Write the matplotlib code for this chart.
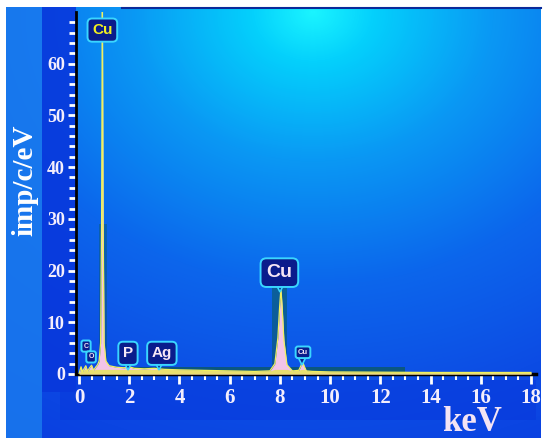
import numpy as np
import matplotlib.pyplot as plt
from matplotlib.colors import LinearSegmentedColormap

# spectrum (keV, imp/c/eV)
energy = [0.0, 0.08, 0.14, 0.2, 0.27, 0.34, 0.42, 0.5, 0.58, 0.66, 0.74, 0.8,
          0.86, 0.9, 0.93, 0.96, 1.0, 1.07, 1.2, 1.5, 1.8, 2.0, 2.2, 2.6,
          3.0, 3.4, 4.0, 5.0, 6.0, 7.0, 7.6, 7.8, 7.92, 7.99, 8.04, 8.09,
          8.16, 8.28, 8.5, 8.75, 8.84, 8.9, 8.96, 9.05, 9.3, 10.0, 12.0,
          14.0, 16.0, 18.0]
counts = [0.0, 1.4, 0.4, 1.0, 1.6, 0.5, 1.2, 1.7, 0.7, 1.3, 1.8, 2.5,
          6.0, 30.0, 75.0, 30.0, 6.0, 2.5, 1.6, 1.3, 1.2, 1.4, 1.1, 1.0,
          1.1, 0.9, 0.8, 0.7, 0.6, 0.5, 0.6, 2.0, 7.0, 13.0, 16.5, 13.0,
          6.5, 1.8, 0.6, 0.7, 1.6, 2.5, 1.6, 0.6, 0.5, 0.4, 0.35,
          0.3, 0.3, 0.3]

# peak labels: text, x (keV), y (imp/c/eV), font size, text colour
labels = ["Cu", "Cu", "Cu", "P", "Ag", "C", "O"]
label_x = [0.93, 7.98, 8.92, 1.95, 3.3, 0.28, 0.48]
label_y = [66.5, 19.6, 4.2, 4.0, 4.0, 5.4, 3.3]
label_size = [11, 14, 5.5, 11, 11, 5, 5]
label_color = ["#f2f020", "#f6e6f6", "#f6e6f6", "#f6e6f6", "#f6e6f6",
               "#f6e6f6", "#f6e6f6"]
# pointer tips under the bubbles (keV, imp/c/eV)
pointer_x = [8.02, 8.9, 1.95, 3.2]
pointer_y = [16.6, 2.6, 1.6, 1.6]

W, H = 550, 447
fig = plt.figure(figsize=(W / 100, H / 100), dpi=100, facecolor="white")

# gradient background
bg = fig.add_axes([0, 0, 1, 1], zorder=0)
bg.set_xlim(0, W)
bg.set_ylim(H, 0)
bg.axis("off")
yy, xx = np.mgrid[0:H, 0:W]
r = np.hypot(xx - 315, (yy - 5) * 1.2)
cmap = LinearSegmentedColormap.from_list(
    "bgblue", [(0.0, "#1af4ff"), (0.1, "#04d0fc"), (0.3, "#0a98f4"),
               (0.55, "#0c66ec"), (0.8, "#0c4ce4"), (1.0, "#0a3ee0")])
bg.imshow(r / r.max(), cmap=cmap, extent=[6, 541, 438, 7], aspect="auto",
          interpolation="bilinear")
bg.add_patch(plt.Rectangle((6, 7), 36, 431, color="#1a7aee", alpha=0.85, lw=0))
bg.add_patch(plt.Rectangle((42, 7), 34, 385, color="#0838dc", alpha=0.9, lw=0))
bg.add_patch(plt.Rectangle((60, 380), 476, 40, color="#0838dc", alpha=0.55,
                           lw=0))
bg.plot([122, 541], [8, 8], color="#0a2a9a", lw=1.5)

# spectrum axes
ax = fig.add_axes([76 / W, 73 / H, 460 / W, 362 / H], zorder=2)
ax.patch.set_alpha(0)
ax.set_xlim(-0.12, 18.2)
ax.set_ylim(0, 70)

# dark green ROI bands
ax.fill_between([0.78, 1.1], 0, 29, color="#0b5a3a", alpha=0.35, lw=0)
ax.fill_between([7.7, 8.28], 0, 19.3, color="#0b5a3a", alpha=0.45, lw=0)
ax.fill_between([1.2, 13.0], 0, 1.3, color="#0b5a3a", alpha=0.6, lw=0)

ax.fill_between(energy, 0, counts, color="#f4c4e8", lw=0, zorder=3)
ax.fill_between(energy, 0, np.minimum(counts, 0.9), color="#e8e070", lw=0,
                zorder=3)
ax.plot(energy, counts, color="#f0f060", lw=0.9, zorder=4)

ax.plot(pointer_x, pointer_y, "v", ms=6, mfc="#0a1c8c", mec="#3ad6ff",
        mew=1.2, zorder=5, ls="none")
for t, x, y, s, c in zip(labels, label_x, label_y, label_size, label_color):
    ax.text(x, y, t, fontsize=s, fontweight="bold", color=c,
            family="Liberation Sans", ha="center", va="center", zorder=6,
            bbox=dict(boxstyle="round,pad=0.3", fc="#0a1c8c", ec="#3ad6ff",
                      lw=1.4))

for side in ["top", "right"]:
    ax.spines[side].set_visible(False)
ax.spines["left"].set_color("black")
ax.spines["left"].set_linewidth(2)
ax.spines["bottom"].set_color("black")
ax.spines["bottom"].set_linewidth(2.5)

ax.set_xticks(np.arange(0, 19, 2))
ax.set_xticks(np.arange(0, 18.1, 0.5), minor=True)
ax.set_yticks(np.arange(0, 61, 10))
ax.set_yticks(np.arange(0, 70, 2), minor=True)
ax.tick_params(axis="x", which="major", length=7, width=2, color="white",
               labelcolor="#f4eefc", labelsize=15, pad=3)
ax.tick_params(axis="x", which="minor", length=4, width=1.5, color="white")
ax.tick_params(axis="y", which="major", length=6, width=2, color="white",
               labelcolor="#f4eefc", labelsize=13, pad=2)
ax.tick_params(axis="y", which="minor", length=5, width=2, color="white")
for lab in ax.get_xticklabels() + ax.get_yticklabels():
    lab.set_family("Liberation Serif")
    lab.set_fontweight("bold")

fig.text(472 / W, 1 - 431 / H, "keV", fontsize=25, fontweight="bold",
         family="Liberation Serif", color="#f4e4f4", ha="center",
         va="baseline")
fig.text(25 / W, 1 - 180 / H, "imp/c/eV", fontsize=21, fontweight="bold",
         family="Liberation Serif", color="white", ha="center", va="center",
         rotation=90)

fig.savefig("out.png", dpi=100, facecolor="white")
